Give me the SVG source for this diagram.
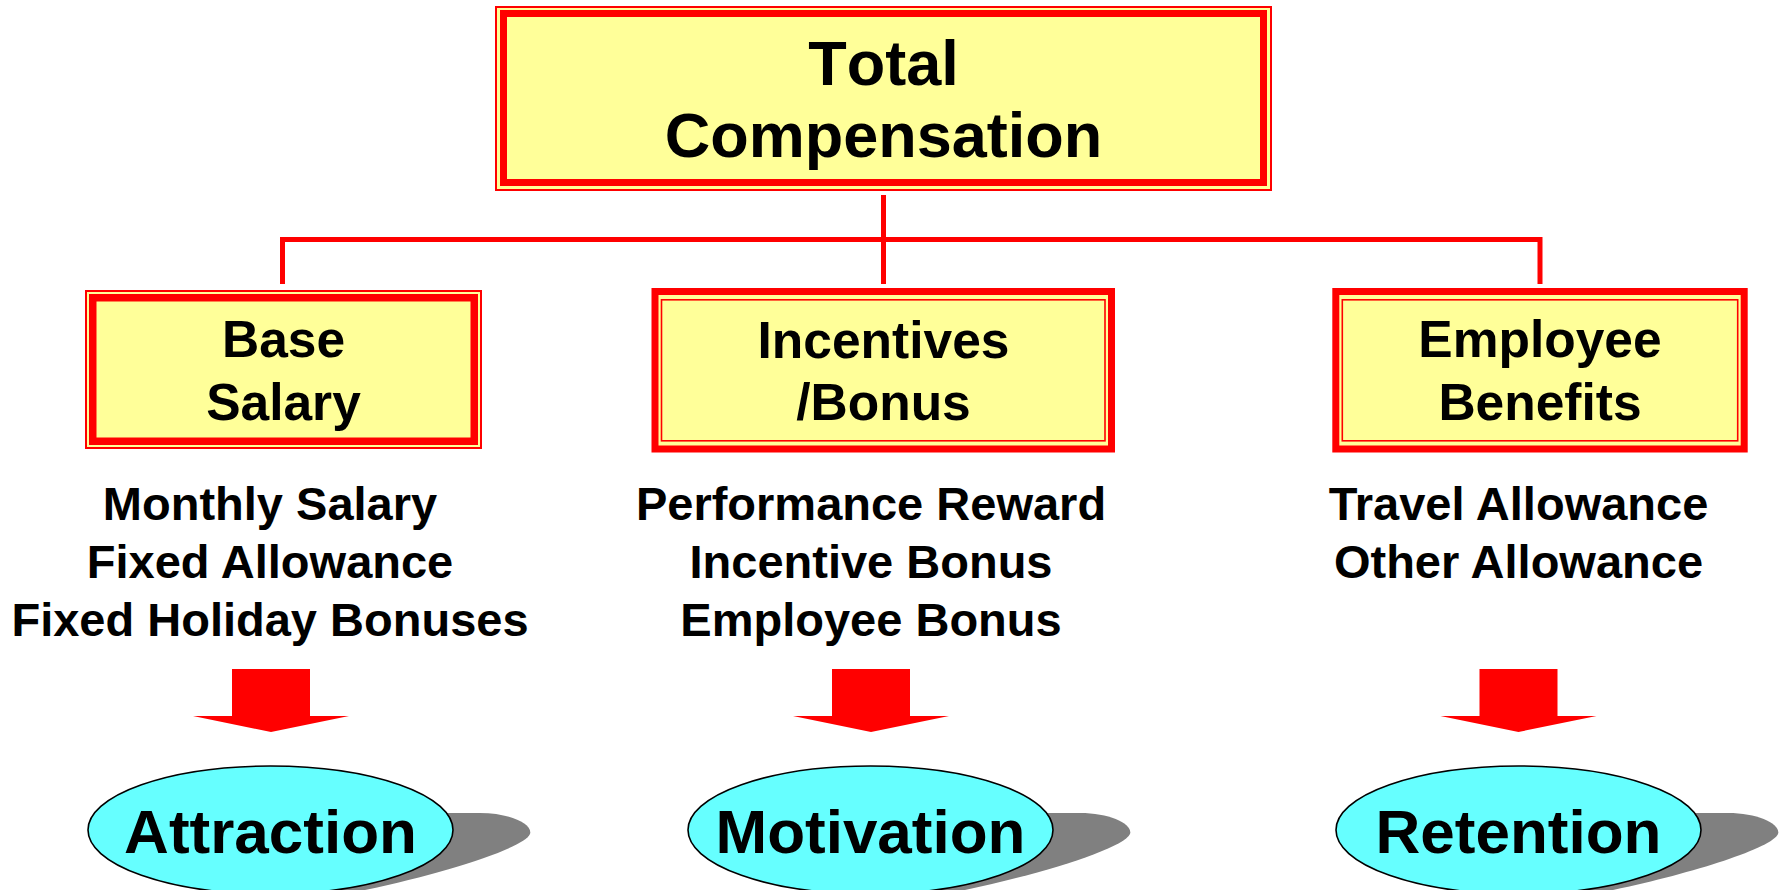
<svg xmlns="http://www.w3.org/2000/svg" width="1779" height="890" viewBox="0 0 1779 890">
<style>
.red{fill:#FF0000}
.yel{fill:#FFFF99}
.thin{fill:none;stroke:#FF0000;stroke-width:1.6}
.lbl{font-family:"Liberation Sans",Arial,sans-serif;font-weight:bold;fill:#000;text-anchor:middle}
.title{font-size:63px;font-kerning:none}
.box{font-size:51.5px}
.item{font-size:47px}
.oval{font-size:62px}
.conn{fill:none;stroke:#FF0000;stroke-width:5;stroke-linejoin:miter}
.arrow{fill:#FF0000}
.shadow{fill:#808080}
.ell{fill:#66FFFF;stroke:#000;stroke-width:1.6}
</style>
<rect width="1779" height="890" fill="#FFFFFF"/>

<g id="connectors">
<line class="conn" x1="883.5" y1="195" x2="883.5" y2="284"/>
<polyline class="conn" points="282.5,284 282.5,239.5 1540,239.5 1540,284"/>
</g>

<g id="total-compensation">
<rect class="red" x="495" y="6" width="777" height="185"/>
<rect class="yel" x="497" y="8" width="773" height="181"/>
<rect class="red" x="500" y="10" width="767" height="176"/>
<rect class="yel" x="507" y="17" width="753" height="162"/>
<text class="lbl title" x="883.5" y="85">Total</text>
<text class="lbl title" x="883.5" y="157">Compensation</text>
</g>

<g id="base-salary">
<rect class="red" x="85" y="290" width="397" height="159"/>
<rect class="yel" x="87" y="292" width="393" height="155"/>
<rect class="red" x="89" y="294" width="389" height="151"/>
<rect class="yel" x="96.5" y="301.5" width="374" height="136"/>
<text class="lbl box" x="283.5" y="357">Base</text>
<text class="lbl box" x="283.5" y="420">Salary</text>
</g>

<g id="incentives-bonus">
<rect class="red" x="651.5" y="288" width="463.5" height="164.5"/>
<rect class="yel" x="658.5" y="295" width="449.5" height="150.5"/>
<rect class="thin" x="661.5" y="299.8" width="443.5" height="141"/>
<text class="lbl box" x="883.5" y="357.5">Incentives</text>
<text class="lbl box" x="883.5" y="420">/Bonus</text>
</g>

<g id="employee-benefits">
<rect class="red" x="1332.3" y="288" width="415.4" height="164.5"/>
<rect class="yel" x="1339.3" y="295" width="401.4" height="150.5"/>
<rect class="thin" x="1342.3" y="299.8" width="395.4" height="141"/>
<text class="lbl box" x="1540" y="357">Employee</text>
<text class="lbl box" x="1540" y="420">Benefits</text>
</g>

<g id="base-items">
<text class="lbl item" x="270" y="520">Monthly Salary</text>
<text class="lbl item" x="270" y="578">Fixed Allowance</text>
<text class="lbl item" x="270" y="636">Fixed Holiday Bonuses</text>
</g>

<g id="incentive-items">
<text class="lbl item" x="871" y="520">Performance Reward</text>
<text class="lbl item" x="871" y="578">Incentive Bonus</text>
<text class="lbl item" x="871" y="636">Employee Bonus</text>
</g>

<g id="benefit-items">
<text class="lbl item" x="1518.5" y="520">Travel Allowance</text>
<text class="lbl item" x="1518.5" y="578">Other Allowance</text>
</g>

<g id="arrow-attraction">
<path class="arrow" d="M232,669 H310 V716 H349 L271,732 L193,716 H232 Z"/>
</g>
<g id="arrow-motivation">
<path class="arrow" d="M832,669 H910 V716 H949 L871,732 L793,716 H832 Z"/>
</g>
<g id="arrow-retention">
<path class="arrow" d="M1479.5,669 H1557.5 V716 H1596.5 L1518.5,732 L1440.5,716 H1479.5 Z"/>
</g>

<g id="attraction">
<path class="shadow" d="M370,813 L480,813 C510,813 533,824 530,834 C524,849 430,878 340,895 L270,895 Z"/>
<ellipse class="ell" cx="270.5" cy="830" rx="182.5" ry="64"/>
<text class="lbl oval" x="270.5" y="853">Attraction</text>
</g>

<g id="motivation">
<path class="shadow" d="M970,813 L1080,813 C1110,813 1133,824 1130,834 C1124,849 1030,878 940,895 L870,895 Z"/>
<ellipse class="ell" cx="870.5" cy="830" rx="182.5" ry="64"/>
<text class="lbl oval" x="870.5" y="853">Motivation</text>
</g>

<g id="retention">
<path class="shadow" d="M1618,813 L1728,813 C1758,813 1781,824 1778,834 C1772,849 1678,878 1588,895 L1518,895 Z"/>
<ellipse class="ell" cx="1518.5" cy="830" rx="182.5" ry="64"/>
<text class="lbl oval" x="1518.5" y="853">Retention</text>
</g>
</svg>
